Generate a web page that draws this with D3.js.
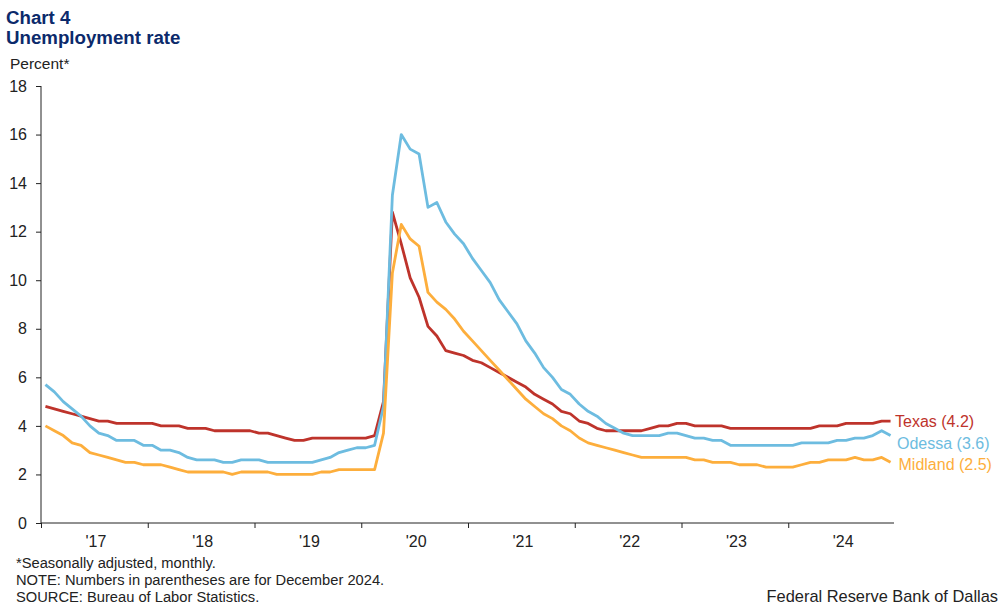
<!DOCTYPE html>
<html>
<head>
<meta charset="utf-8">
<script src="https://cdn.jsdelivr.net/npm/d3@7"></script>
<style>
  html, body { margin: 0; padding: 0; background: #fff; }
  svg { display: block; font-family: Arial, "Liberation Sans", sans-serif; }
</style>
</head>
<body>
<svg id="chart" width="1005" height="613"></svg>
<script>
// Tick labels (one per year, Jan 2017 - Dec 2024, monthly data)
const yearLabels = ["'17", "'18", "'19", "'20", "'21", "'22", "'23", "'24"];
const yTicks = [0, 2, 4, 6, 8, 10, 12, 14, 16, 18];

// Unemployment rate, percent, monthly Jan 2017 - Dec 2024
const texas = [
  4.8, 4.7, 4.6, 4.5, 4.4, 4.3, 4.2, 4.2, 4.1, 4.1, 4.1, 4.1,
  4.1, 4.0, 4.0, 4.0, 3.9, 3.9, 3.9, 3.8, 3.8, 3.8, 3.8, 3.8,
  3.7, 3.7, 3.6, 3.5, 3.4, 3.4, 3.5, 3.5, 3.5, 3.5, 3.5, 3.5,
  3.5, 3.6, 5.0, 12.8, 11.5, 10.1, 9.3, 8.1, 7.7, 7.1, 7.0, 6.9,
  6.7, 6.6, 6.4, 6.2, 6.0, 5.8, 5.6, 5.3, 5.1, 4.9, 4.6, 4.5,
  4.2, 4.1, 3.9, 3.8, 3.8, 3.8, 3.8, 3.8, 3.9, 4.0, 4.0, 4.1,
  4.1, 4.0, 4.0, 4.0, 4.0, 3.9, 3.9, 3.9, 3.9, 3.9, 3.9, 3.9,
  3.9, 3.9, 3.9, 4.0, 4.0, 4.0, 4.1, 4.1, 4.1, 4.1, 4.2, 4.2
];
const odessa = [
  5.7, 5.4, 5.0, 4.7, 4.4, 4.0, 3.7, 3.6, 3.4, 3.4, 3.4, 3.2,
  3.2, 3.0, 3.0, 2.9, 2.7, 2.6, 2.6, 2.6, 2.5, 2.5, 2.6, 2.6,
  2.6, 2.5, 2.5, 2.5, 2.5, 2.5, 2.5, 2.6, 2.7, 2.9, 3.0, 3.1,
  3.1, 3.2, 4.8, 13.5, 16.0, 15.4, 15.2, 13.0, 13.2, 12.4, 11.9, 11.5,
  10.9, 10.4, 9.9, 9.2, 8.7, 8.2, 7.5, 7.0, 6.4, 6.0, 5.5, 5.3,
  4.9, 4.6, 4.4, 4.1, 3.9, 3.7, 3.6, 3.6, 3.6, 3.6, 3.7, 3.7,
  3.6, 3.5, 3.5, 3.4, 3.4, 3.2, 3.2, 3.2, 3.2, 3.2, 3.2, 3.2,
  3.2, 3.3, 3.3, 3.3, 3.3, 3.4, 3.4, 3.5, 3.5, 3.6, 3.8, 3.6
];
const midland = [
  4.0, 3.8, 3.6, 3.3, 3.2, 2.9, 2.8, 2.7, 2.6, 2.5, 2.5, 2.4,
  2.4, 2.4, 2.3, 2.2, 2.1, 2.1, 2.1, 2.1, 2.1, 2.0, 2.1, 2.1,
  2.1, 2.1, 2.0, 2.0, 2.0, 2.0, 2.0, 2.1, 2.1, 2.2, 2.2, 2.2,
  2.2, 2.2, 3.7, 10.3, 12.3, 11.7, 11.4, 9.5, 9.1, 8.8, 8.4, 7.9,
  7.5, 7.1, 6.7, 6.3, 5.9, 5.5, 5.1, 4.8, 4.5, 4.3, 4.0, 3.8,
  3.5, 3.3, 3.2, 3.1, 3.0, 2.9, 2.8, 2.7, 2.7, 2.7, 2.7, 2.7,
  2.7, 2.6, 2.6, 2.5, 2.5, 2.5, 2.4, 2.4, 2.4, 2.3, 2.3, 2.3,
  2.3, 2.4, 2.5, 2.5, 2.6, 2.6, 2.6, 2.7, 2.6, 2.6, 2.7, 2.5
];

const seriesNames = ["Texas", "Odessa", "Midland"];
const seriesColors = ["#BE332B", "#6DBCE0", "#FDAE3C"];
const seriesLabels = ["Texas (4.2)", "Odessa (3.6)", "Midland (2.5)"];
const seriesData = [texas, odessa, midland];

const svg = d3.select("#chart");
const nMonths = texas.length;

const x = d3.scaleLinear().domain([-0.5, nMonths - 0.5]).range([41, 895]);
const y = d3.scaleLinear().domain([0, 18]).range([523, 86]);

// Titles
svg.append("text").attr("x", 6).attr("y", 24)
  .attr("font-size", 18.7).attr("font-weight", "bold").attr("fill", "#0B2A6B")
  .text("Chart 4");
svg.append("text").attr("x", 6).attr("y", 44)
  .attr("font-size", 18.7).attr("font-weight", "bold").attr("fill", "#0B2A6B")
  .text("Unemployment rate");
svg.append("text").attr("x", 10).attr("y", 68.5)
  .attr("font-size", 15.5).attr("fill", "#222")
  .text("Percent*");

// Y axis
const yAxis = d3.axisLeft(y).tickValues(yTicks).tickSize(5).tickPadding(9).tickFormat(d3.format("d"));
const gy = svg.append("g").attr("transform", "translate(41,0)").call(yAxis);
gy.select(".domain").attr("stroke", "#222").attr("d", `M0,${y(18)}V${y(0)}`);
gy.selectAll(".tick line").attr("stroke", "#222");
gy.selectAll(".tick text").attr("font-size", 16).attr("fill", "#222")
  .attr("font-family", "Arial, 'Liberation Sans', sans-serif");

// X axis (ticks at year boundaries)
const yearStarts = yearLabels.map((_, i) => i * 12 - 0.5);
const xAxis = d3.axisBottom(x).tickValues(yearStarts).tickSize(5).tickFormat("");
const gx = svg.append("g").attr("transform", `translate(0,${y(0)})`).call(xAxis);
gx.select(".domain").attr("stroke", "#222").attr("d", `M${x.range()[0]},0H${x.range()[1] - 1}`);
gx.selectAll(".tick line").attr("stroke", "#222");

svg.append("g").selectAll("text").data(yearLabels).join("text")
  .attr("x", (d, i) => x(i * 12 + 5.5) + 1.5)
  .attr("y", 547)
  .attr("text-anchor", "middle")
  .attr("font-size", 16).attr("fill", "#222")
  .text(d => d);

// Lines
const line = d3.line().x((d, i) => x(i)).y(d => y(d));
svg.append("g").selectAll("path").data(seriesData).join("path")
  .attr("d", d => line(d))
  .attr("fill", "none")
  .attr("stroke", (d, i) => seriesColors[i])
  .attr("stroke-width", 2.8)
  .attr("stroke-linejoin", "round");

// End labels
const labelY = [421.5, 443.5, 464.5];
const labelX = [895, 897, 898.5];
svg.append("g").selectAll("text").data(seriesLabels).join("text")
  .attr("x", (d, i) => labelX[i])
  .attr("y", (d, i) => labelY[i])
  .attr("dy", "0.35em")
  .attr("font-size", 16)
  .attr("fill", (d, i) => seriesColors[i])
  .text(d => d);

// Footnotes
const notes = ["*Seasonally adjusted, monthly.", "NOTE: Numbers in parentheses are for December 2024.", "SOURCE: Bureau of Labor Statistics."];
svg.append("g").selectAll("text").data(notes).join("text")
  .attr("x", 16).attr("y", (d, i) => 568 + i * 17)
  .attr("font-size", 14.7).attr("fill", "#222")
  .text(d => d);
svg.append("text").attr("x", 998).attr("y", 602).attr("text-anchor", "end")
  .attr("font-size", 16.4).attr("fill", "#222")
  .text("Federal Reserve Bank of Dallas");
</script>
</body>
</html>
